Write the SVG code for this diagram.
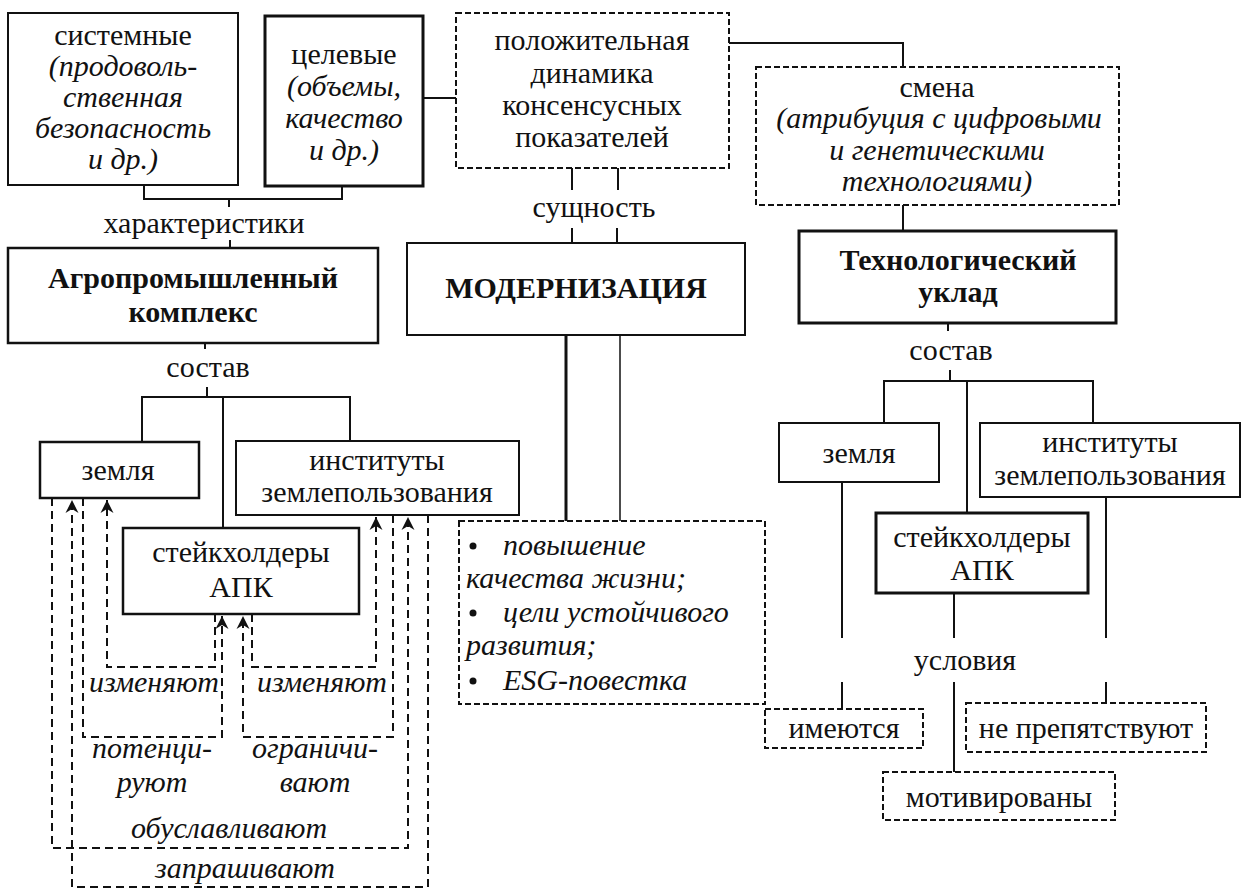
<svg xmlns="http://www.w3.org/2000/svg" width="1245" height="890" viewBox="0 0 1245 890">
<defs>
<style>
.box{fill:#fff;stroke:#111;stroke-width:2}
.thick{stroke-width:3}
.dbox{fill:#fff;stroke:#111;stroke-width:2;stroke-dasharray:6 3}
.ln{fill:none;stroke:#111;stroke-width:2}
.dl{fill:none;stroke:#111;stroke-width:2;stroke-dasharray:8 5}
.t{font-family:'Liberation Serif','Times New Roman',serif;font-size:30px;fill:#111;text-anchor:middle}
.i{font-style:italic}
.b{font-weight:bold}
.l{text-anchor:start}
</style>
<marker id="ar" viewBox="-14 -8 15 16" refX="0" refY="0" markerWidth="15" markerHeight="16" markerUnits="userSpaceOnUse" orient="auto">
<path d="M0,0 L-13,-6.5 L-9,0 L-13,6.5 Z" fill="#111"/>
</marker>
</defs>
<rect width="1245" height="890" fill="#fff"/>

<g id="connectors">
<path class="ln" d="M144,186 V199 H342 V187 M229,199 V207"/>
<path class="ln" d="M230,240 V248"/>
<path class="ln" d="M423,98 H456"/>
<path class="ln" d="M729,43 H903 V67"/>
<path class="ln" d="M572,168 V190 M618,168 V190"/>
<path class="ln" d="M572,228 V243 M617,228 V243"/>
<path class="ln" d="M566,335 V521" style="stroke-width:3"/>
<path class="ln" d="M620,335 V521" style="stroke-width:1.5"/>
<path class="ln" d="M903,205 V231"/>
<path class="ln" d="M948,323 V331"/>
<path class="ln" d="M950,370 V381 M884,423 V381 H1093 V423 M967,381 V513"/>
<path class="ln" d="M842,482 V638 M954,593 V638 M1106,497 V638"/>
<path class="ln" d="M842,682 V709 M954,682 V772 M1106,682 V703"/>
<path class="ln" d="M205,343 V349"/>
<path class="ln" d="M207,387 V397 M142,442 V397 H350 V441 M223,397 V528"/>
<path class="dl" d="M215,614 V667 H107 V500" marker-end="url(#ar)"/>
<path class="dl" d="M83,498 V737 H222 V616" marker-end="url(#ar)"/>
<path class="dl" d="M252,614 V667 H376 V517" marker-end="url(#ar)"/>
<path class="dl" d="M393,515 V737 H243 V616" marker-end="url(#ar)"/>
<path class="dl" d="M52,498 V848 H408 V517" marker-end="url(#ar)"/>
<path class="dl" d="M428,515 V887 H72 V500" marker-end="url(#ar)"/>
</g>

<g id="n-sistemnye">
<rect class="box" x="8" y="13" width="230" height="172"/>
<text class="t" x="123" y="45">системные</text>
<text class="t i" x="123" y="76">(продоволь-</text>
<text class="t i" x="123" y="107">ственная</text>
<text class="t i" x="123" y="138">безопасность</text>
<text class="t i" x="123" y="169">и др.)</text>
</g>
<g id="n-tselevye">
<rect class="box thick" x="265" y="16" width="158" height="170"/>
<text class="t" x="344" y="64">целевые</text>
<text class="t i" x="344" y="96">(объемы,</text>
<text class="t i" x="344" y="128">качество</text>
<text class="t i" x="344" y="160">и др.)</text>
</g>
<g id="n-dinamika">
<rect class="dbox" x="456" y="13" width="273" height="155"/>
<text class="t" x="592" y="50">положительная</text>
<text class="t" x="592" y="83">динамика</text>
<text class="t" x="592" y="115">консенсусных</text>
<text class="t" x="592" y="147">показателей</text>
</g>
<g id="n-smena">
<rect class="dbox" x="756" y="67" width="363" height="138"/>
<text class="t" x="937" y="97">смена</text>
<text class="t i" x="939" y="128">(атрибуция с цифровыми</text>
<text class="t i" x="937" y="160">и генетическими</text>
<text class="t i" x="937" y="191">технологиями)</text>
</g>
<g id="lbl-harakteristiki"><text class="t" x="204" y="233">характеристики</text></g>
<g id="lbl-sushchnost"><text class="t" x="594" y="217">сущность</text></g>
<g id="n-apk">
<rect class="box" x="8" y="248" width="370" height="95" style="stroke-width:2.5"/>
<text class="t b" x="193" y="288">Агропромышленный</text>
<text class="t b" x="193" y="322">комплекс</text>
</g>
<g id="n-modernizatsiya">
<rect class="box" x="407" y="243" width="338" height="92"/>
<text class="t b" x="576" y="298">МОДЕРНИЗАЦИЯ</text>
</g>
<g id="n-uklad">
<rect class="box thick" x="799" y="231" width="317" height="92"/>
<text class="t b" x="958" y="270">Технологический</text>
<text class="t b" x="958" y="302">уклад</text>
</g>
<g id="lbl-sostav-l"><text class="t" x="208" y="377">состав</text></g>
<g id="lbl-sostav-r"><text class="t" x="951" y="360">состав</text></g>
<g id="n-zemlya-l">
<rect class="box" x="40" y="442" width="159" height="56" style="stroke-width:2.5"/>
<text class="t" x="118" y="480">земля</text>
</g>
<g id="n-instituty-l">
<rect class="box" x="236" y="441" width="283" height="74"/>
<text class="t" x="377" y="470">институты</text>
<text class="t" x="377" y="502">землепользования</text>
</g>
<g id="n-steikholdery-l">
<rect class="box" x="123" y="528" width="236" height="86" style="stroke-width:2.5"/>
<text class="t" x="241" y="562">стейкхолдеры</text>
<text class="t" x="241" y="597">АПК</text>
</g>
<g id="n-esg">
<rect class="dbox" x="459" y="521" width="306" height="183"/>
<circle cx="473" cy="546" r="3.5" fill="#111"/>
<text class="t i l" x="503" y="555">повышение</text>
<text class="t i l" x="466" y="588">качества жизни;</text>
<circle cx="473" cy="613" r="3.5" fill="#111"/>
<text class="t i l" x="503" y="622">цели устойчивого</text>
<text class="t i l" x="466" y="655">развития;</text>
<circle cx="473" cy="681" r="3.5" fill="#111"/>
<text class="t i l" x="503" y="690">ESG-повестка</text>
</g>
<g id="n-zemlya-r">
<rect class="box" x="779" y="423" width="160" height="59"/>
<text class="t" x="859" y="463">земля</text>
</g>
<g id="n-instituty-r">
<rect class="box" x="980" y="423" width="260" height="74"/>
<text class="t" x="1110" y="452">институты</text>
<text class="t" x="1110" y="485">землепользования</text>
</g>
<g id="n-steikholdery-r">
<rect class="box thick" x="876" y="513" width="212" height="80"/>
<text class="t" x="982" y="547">стейкхолдеры</text>
<text class="t" x="982" y="580">АПК</text>
</g>
<g id="lbl-usloviya"><text class="t" x="965" y="670">условия</text></g>
<g id="n-imeyutsya">
<rect class="dbox" x="765" y="709" width="158" height="39"/>
<text class="t" x="844" y="738">имеются</text>
</g>
<g id="n-ne-prepyatstvuyut">
<rect class="dbox" x="966" y="703" width="240" height="49"/>
<text class="t" x="1086" y="738">не препятствуют</text>
</g>
<g id="n-motivirovany">
<rect class="dbox" x="883" y="772" width="232" height="48"/>
<text class="t" x="999" y="807">мотивированы</text>
</g>
<g id="edge-labels">
<text class="t i" x="154" y="692">изменяют</text>
<text class="t i" x="322" y="692">изменяют</text>
<text class="t i" x="152" y="758">потенци-</text>
<text class="t i" x="152" y="792">руют</text>
<text class="t i" x="315" y="758">ограничи-</text>
<text class="t i" x="315" y="792">вают</text>
<text class="t i" x="229" y="838">обуславливают</text>
<text class="t i" x="245" y="878">запрашивают</text>
</g>
</svg>
